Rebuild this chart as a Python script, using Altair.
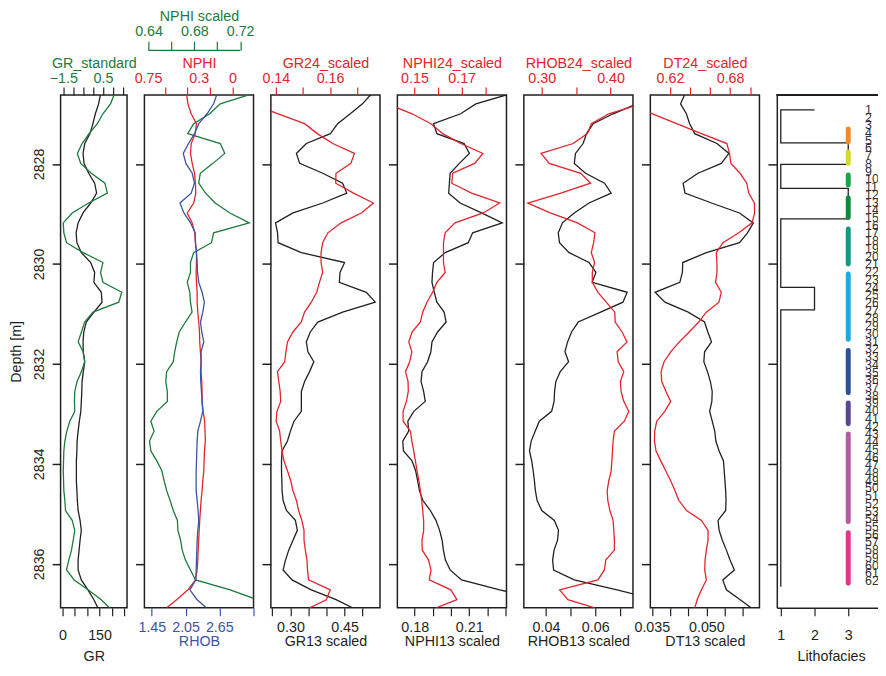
import altair as alt
import pandas as pd

# ---------------- data ----------------
DEPTH = [round(2826.60 + 0.1984 * i, 3) for i in range(52)] + [2836.88]

GR = [154, 146, 133, 123, 111, 90, 83, 87, 106, 130, 138, 114, 83, 63, 55, 58, 76, 114, 130, 127, 157, 160, 127, 96, 86, 83,
      84, 90, 84, 79, 78, 76, 74, 68, 63, 59, 58, 56, 56, 56, 58, 60, 63, 71, 76, 71, 67, 63, 63, 76, 103, 127, 143]
GR_STD = [1.08, 0.88, 0.50, 0.22, -0.20, -0.55, -0.79, -0.62, -0.09, 0.60, 0.72, -0.22, -1.05, -1.50, -1.47, -1.335, -0.50, 0.50, 0.38, 0.50, 1.45, 1.30, 0.00, -0.42, -0.585, -0.75,
          -0.50, -0.42, -0.585, -0.80, -0.92, -0.935, -0.92, -1.17, -1.32, -1.42, -1.47, -1.485, -1.50, -1.485, -1.47, -1.42, -1.385, -1.05, -0.92, -1.00, -1.085, -1.22, -1.335, -0.95, -0.25, 0.415, 0.83]
NPHI = [0.408, 0.396, 0.367, 0.320, 0.331, 0.367, 0.373, 0.358, 0.337, 0.329, 0.326, 0.344, 0.402, 0.358, 0.335, 0.329, 0.320, 0.320, 0.323, 0.320, 0.314, 0.314, 0.308, 0.300, 0.293, 0.291,
        0.285, 0.279, 0.279, 0.273, 0.270, 0.270, 0.261, 0.247, 0.244, 0.241, 0.249, 0.252, 0.255, 0.264, 0.270, 0.279, 0.285, 0.291, 0.296, 0.300, 0.305, 0.308, 0.314, 0.329, 0.396, 0.496, 0.584]
NPHI_SC = [0.730, 0.7026, 0.6934, 0.6794, 0.6742, 0.7026, 0.7066, 0.6962, 0.6852, 0.6838, 0.6898, 0.6982, 0.711, 0.728, 0.6968, 0.695, 0.6794, 0.6766, 0.6766, 0.6738, 0.676, 0.6766, 0.678, 0.6722, 0.6668, 0.6646,
           0.6628, 0.6616, 0.6558, 0.655, 0.6564, 0.6564, 0.6472, 0.642, 0.6448, 0.6408, 0.642, 0.6472, 0.6516, 0.6536, 0.6558, 0.6588, 0.6616, 0.6652, 0.6656, 0.668, 0.6694, 0.6722, 0.6766, 0.681, 0.7113, 0.735, 0.74]
RHOB = [2.609, 2.549, 2.432, 2.285, 2.209, 2.103, 2.009, 2.056, 2.168, 2.209, 2.150, 1.950, 2.021, 2.138, 2.221, 2.226, 2.244, 2.256, 2.262, 2.285, 2.344, 2.385, 2.356, 2.315, 2.338, 2.374,
        2.326, 2.326, 2.315, 2.320, 2.332, 2.344, 2.356, 2.315, 2.268, 2.256, 2.250, 2.244, 2.238, 2.238, 2.238, 2.256, 2.273, 2.285, 2.268, 2.256, 2.250, 2.244, 2.238, 2.232, 2.126, 2.256, 2.42]
GR24 = [0.126, 0.131, 0.1408, 0.1506, 0.1553, 0.1610, 0.1690, 0.1677, 0.1622, 0.1621, 0.1687, 0.1760, 0.1716, 0.1641, 0.1592, 0.1573, 0.1567, 0.1567, 0.1573, 0.1561, 0.1551, 0.1531, 0.1506, 0.1494, 0.1463, 0.1443,
        0.1437, 0.1433, 0.1406, 0.1411, 0.1416, 0.1418, 0.1404, 0.1401, 0.1414, 0.1418, 0.1423, 0.1430, 0.1443, 0.1455, 0.1463, 0.1476, 0.1484, 0.1496, 0.1504, 0.1504, 0.1509, 0.1515, 0.1517, 0.1521, 0.1601, 0.1586, 0.1525]
GR13 = [0.524, 0.4995, 0.4657, 0.4308, 0.4107, 0.344, 0.3165, 0.3256, 0.3896, 0.4445, 0.456, 0.3896, 0.3071, 0.2588, 0.2643, 0.266, 0.3302, 0.450, 0.4374, 0.4354, 0.510, 0.535, 0.4445, 0.3758, 0.355, 0.344,
        0.3484, 0.3648, 0.353, 0.3393, 0.3302, 0.3302, 0.3302, 0.3099, 0.300, 0.2918, 0.2769, 0.2753, 0.2753, 0.2762, 0.2769, 0.2797, 0.289, 0.3137, 0.3192, 0.3071, 0.2953, 0.2863, 0.2797, 0.3044, 0.3577, 0.4264, 0.472]
NPHI24 = [0.128, 0.1385, 0.149, 0.157, 0.162, 0.1696, 0.179, 0.1755, 0.1662, 0.1658, 0.1742, 0.1861, 0.1791, 0.1672, 0.163, 0.1623, 0.1623, 0.1623, 0.163, 0.1595, 0.1577, 0.1553, 0.1535, 0.1525, 0.149, 0.1476,
          0.1489, 0.148, 0.1462, 0.1473, 0.1474, 0.1466, 0.1452, 0.1452, 0.1483, 0.1489, 0.1497, 0.1504, 0.1511, 0.1519, 0.1525, 0.1531, 0.1535, 0.1539, 0.1539, 0.1532, 0.1533, 0.156, 0.157, 0.1563, 0.1654, 0.168, 0.1592]
NPHI13 = [0.2323, 0.2137, 0.2053, 0.1904, 0.1922, 0.2072, 0.2101, 0.2046, 0.1995, 0.1991, 0.1987, 0.205, 0.2168, 0.2282, 0.2119, 0.2095, 0.1968, 0.1904, 0.1898, 0.1895, 0.1908, 0.1922, 0.1962, 0.1973, 0.1926, 0.1895,
          0.1889, 0.1871, 0.184, 0.1835, 0.1849, 0.1858, 0.1795, 0.1762, 0.1767, 0.1734, 0.1738, 0.1785, 0.1805, 0.1816, 0.1826, 0.1845, 0.1886, 0.1917, 0.1937, 0.1951, 0.1958, 0.1969, 0.1995, 0.2058, 0.2268, 0.25, 0.25]
RHOB24 = [0.47, 0.445, 0.3975, 0.372, 0.3663, 0.3457, 0.299, 0.311, 0.3567, 0.371, 0.3278, 0.2798, 0.3125, 0.3519, 0.3773, 0.3754, 0.372, 0.3768, 0.3735, 0.3735, 0.3817, 0.3937, 0.4062, 0.4067, 0.4167, 0.4239,
          0.4095, 0.4111, 0.4192, 0.4143, 0.4153, 0.4192, 0.4264, 0.42, 0.4056, 0.4037, 0.4028, 0.4019, 0.4009, 0.3975, 0.3951, 0.396, 0.399, 0.4037, 0.4047, 0.4056, 0.4056, 0.393, 0.391, 0.3817, 0.326, 0.338, 0.3768]
RHOB13 = [0.087, 0.077, 0.0673, 0.0592, 0.0565, 0.0551, 0.052, 0.0515, 0.0561, 0.0638, 0.0665, 0.0575, 0.0515, 0.0467, 0.045, 0.0455, 0.0494, 0.0575, 0.0603, 0.0588, 0.073, 0.0713, 0.0622, 0.0531, 0.0504, 0.0488,
          0.0477, 0.0492, 0.0458, 0.044, 0.0435, 0.0433, 0.0423, 0.0373, 0.0356, 0.034, 0.0333, 0.0342, 0.0348, 0.0353, 0.0357, 0.0364, 0.0383, 0.0434, 0.0451, 0.0447, 0.0433, 0.0427, 0.0431, 0.0515, 0.0689, 0.085, 0.09]
DT24 = [0.555, 0.5788, 0.6026, 0.6266, 0.6514, 0.6768, 0.6794, 0.6808, 0.69, 0.6966, 0.6986, 0.7042, 0.7045, 0.7019, 0.6887, 0.6729, 0.6662, 0.6669, 0.6669, 0.6655, 0.6712, 0.6689, 0.6563, 0.6487, 0.6392, 0.6293,
        0.6207, 0.6141, 0.6111, 0.6118, 0.616, 0.6207, 0.6148, 0.6068, 0.6048, 0.6045, 0.6061, 0.6108, 0.6157, 0.6207, 0.625, 0.6289, 0.6365, 0.6514, 0.658, 0.658, 0.6563, 0.655, 0.6547, 0.6563, 0.6514, 0.6471, 0.6448]
DT13 = [0.0441, 0.0429, 0.0445, 0.0454, 0.0468, 0.0529, 0.0562, 0.0541, 0.0477, 0.0436, 0.0441, 0.0514, 0.0591, 0.0629, 0.0613, 0.0591, 0.05, 0.0435, 0.0434, 0.0427, 0.0359, 0.0386, 0.045, 0.0495, 0.0504, 0.0514,
        0.0495, 0.0493, 0.0503, 0.0511, 0.0516, 0.0515, 0.0509, 0.0516, 0.0523, 0.0526, 0.0535, 0.0547, 0.0549, 0.0551, 0.0553, 0.0554, 0.0553, 0.0532, 0.0535, 0.0544, 0.0555, 0.0565, 0.0577, 0.0545, 0.0555, 0.0593, 0.0623]

# lithofacies step curve
FAC_DEPTH = [2826.92, 2827.58, 2828.01, 2828.49, 2829.10, 2830.47, 2830.92, 2836.46]
FAC_VALUE = [2, 1, 3, 1, 3, 1, 2, 1]

# coloured facies bars at lithofacies 3
BAR_NAME = ["f1", "f2", "f3", "f4", "f5", "f6", "f7", "f8", "f9", "f10"]
BAR_TOP = [2827.30, 2827.76, 2828.22, 2828.68, 2829.30, 2830.20, 2831.73, 2832.78, 2833.40, 2835.38]
BAR_BOT = [2827.56, 2827.99, 2828.42, 2829.07, 2830.00, 2831.51, 2832.58, 2833.20, 2835.16, 2836.39]
BAR_X = [3] * 10
BAR_COLOR = ["#ef8a25", "#d5da2a", "#17a54a", "#0d8a40", "#0f9b80", "#1cace2", "#2f4f9c", "#5a4698", "#b9589c", "#e2358a"]

# sample numbers 1..62
SAMPLE_NO = [str(k) for k in range(1, 63)]
SAMPLE_DEPTH = [round(2826.919 + 0.15456 * k, 3) for k in range(62)]
SAMPLE_X = [3.5] * 62

# ---------------- styling ----------------
FONT = "Liberation Sans"
FS = 14.4
BLACK = "#231f20"
RED = "#e4232b"
GREEN = "#1c7a3c"
BLUE = "#3a54a4"
H = 517
YTICKS = [2828, 2830, 2832, 2834, 2836]
YSC = alt.Scale(domain=[2826.62, 2836.88], reverse=True, nice=False, zero=False)

df = pd.DataFrame({"depth": DEPTH, "GR": GR, "GRS": GR_STD, "NPHI": NPHI, "NSC": NPHI_SC, "RHOB": RHOB,
                   "GR24": GR24, "GR13": GR13, "N24": NPHI24, "N13": NPHI13, "R24": RHOB24, "R13": RHOB13,
                   "D24": DT24, "D13": DT13})


def y_enc(main=False, domain=False):
    if main:
        ax = alt.Axis(orient="left", values=YTICKS, format="d", labelAngle=270, labelAlign="center",
                      labelBaseline="middle", labelPadding=13, tickSize=8.5, tickColor=BLACK, tickWidth=1.5,
                      labelColor=BLACK, domain=False, title="Depth [m]", titleAngle=270, titleX=-44,
                      titleY=H / 2, titleBaseline="middle", titleAlign="center", titleColor=BLACK)
    else:
        ax = alt.Axis(orient="left", values=YTICKS, labels=False, tickSize=9, tickColor=BLACK, tickWidth=1.5,
                      domain=domain, domainColor=BLACK, domainWidth=1.5, title=None)
    return alt.Y("depth:Q", scale=YSC, axis=ax)


def show_expr(show):
    cond = " || ".join(f"datum.value == {v}" for v in show)
    return f"({cond}) ? datum.label : ''"


def x_axis(orient, values, show, fmt, title, color, pad, title_y, offset=0, tick=8, title_x=None,
           label_expr=None, tick_opacity=None, domain=False, tick_color=None):
    kw = dict(orient=orient, values=values, format=fmt, labelExpr=label_expr or show_expr(show),
              labelColor=color, tickColor=tick_color or color, titleColor=color, tickSize=tick, tickWidth=1.2,
              labelPadding=pad, labelBaseline="middle", labelOverlap=False, labelFlush=False,
              domain=domain, title=title, titleY=title_y, titleBaseline="middle", offset=offset)
    if domain:
        kw.update(domainColor=BLACK, domainWidth=1.5)
    if title_x is not None:
        kw["titleX"] = title_x
    if tick_opacity is not None:
        kw["tickOpacity"] = tick_opacity
    return alt.Axis(**kw)


TOP_PAD, TOP_TY = 8.65, -31.65
BOT_PAD, BOT_TY = 11.55, 33.8
BOT_PAD2, BOT_TY2 = 19.5, 49.0


def curve(field, color, dom, axis, main=False):
    return alt.Chart(df).mark_line(color=color, strokeWidth=1.3, clip=True).encode(
        x=alt.X(f"{field}:Q", scale=alt.Scale(domain=dom, nice=False, zero=False), axis=axis),
        y=y_enc(main), order=alt.Order("depth:Q"))


# panel 1
p1 = alt.layer(
    curve("GR", BLACK, [-8.04, 261.3],
          x_axis("bottom", [0, 50, 100, 150, 200, 250], [0, 150], "d", "GR", BLACK, BOT_PAD2, BOT_TY2), main=True),
    curve("GRS", GREEN, [-1.635, 1.715],
          x_axis("top", [-1.5, -1.0, -0.5, 0.0, 0.5, 1.0, 1.5], [-1.5, 0.5], ".1f", "GR_standard", GREEN, TOP_PAD, TOP_TY,
                 tick_color=BLACK),
          main=True),
).resolve_scale(x="independent").properties(width=67, height=H)

# panel 2
NSC_DOM = [0.63636, 0.73168]
nsc_axis_line = alt.Chart(pd.DataFrame({"a": [0.64], "b": [0.72]})).mark_rule(color=GREEN, strokeWidth=1.2).encode(
    x=alt.X("a:Q", scale=alt.Scale(domain=NSC_DOM, nice=False, zero=False), axis=None),
    x2="b:Q", y=alt.value(-45))
p2 = alt.layer(
    curve("NSC", GREEN, NSC_DOM,
          x_axis("top", [0.64, 0.66, 0.68, 0.70, 0.72], [0.64, 0.68, 0.72], ".2f", "NPHI scaled", GREEN, 9.45, -34.4,
                 offset=45, tick=9)),
    curve("NPHI", RED, [0.7824, -0.1868],
          x_axis("top", [0, 0.2, 0.3, 0.4, 0.6, 0.75], [], ".2f", "NPHI", RED, TOP_PAD, TOP_TY,
                 label_expr="datum.value == 0.75 ? '0.75' : datum.value == 0.3 ? '0.3' : datum.value == 0 ? '0' : ''",
                 tick_opacity={"condition": {"test": "datum.value == 0.3 || datum.value == 0.75", "value": 0}, "value": 1})),
    curve("RHOB", BLUE, [1.3177, 3.2587],
          x_axis("bottom", [1.45, 2.05, 2.65, 3.25], [1.45, 2.05, 2.65], ".2f", "RHOB", BLUE, BOT_PAD, BOT_TY)),
    nsc_axis_line,
).resolve_scale(x="independent").properties(width=110, height=H)


def pair_panel(f24, dom24, vals24, show24, t24, f13, dom13, vals13, show13, t13, fmt13=".2f"):
    return alt.layer(
        curve(f13, BLACK, dom13, x_axis("bottom", vals13, show13, fmt13, t13, BLACK, BOT_PAD, BOT_TY)),
        curve(f24, RED, dom24, x_axis("top", vals24, show24, ".2f", t24, RED, TOP_PAD, TOP_TY)),
    ).resolve_scale(x="independent").properties(width=110, height=H)


p3 = pair_panel("GR24", [0.13817, 0.17846], [0.14, 0.15, 0.16, 0.17], [0.14, 0.16], "GR24_scaled",
                "GR13", [0.24588, 0.54808], [0.25, 0.30, 0.35, 0.40, 0.45, 0.50, 0.55], [0.30, 0.45], "GR13 scaled")
p4 = pair_panel("N24", [0.14277, 0.18899], [0.15, 0.16, 0.17, 0.18], [0.15, 0.17], "NPHI24_scaled",
                "N13", [0.17044, 0.23055], [0.18, 0.19, 0.20, 0.21, 0.22, 0.23], [0.18, 0.21], "NPHI13 scaled")
p5 = pair_panel("R24", [0.27406, 0.43256], [0.30, 0.35, 0.40], [0.30, 0.40], "RHOB24_scaled",
                "R13", [0.031008, 0.075363], [0.04, 0.05, 0.06, 0.07], [0.04, 0.06], "RHOB13 scaled")
p6 = pair_panel("D24", [0.6004, 0.70931], [0.62, 0.64, 0.66, 0.68, 0.70], [0.62, 0.68], "DT24_scaled",
                "D13", [0.03459, 0.06459], [0.035, 0.040, 0.045, 0.050, 0.055, 0.060, 0.065], [0.035, 0.050],
                "DT13 scaled", fmt13=".3f")

# panel 7 lithofacies
W7 = 102
FSC = alt.Scale(domain=[0.8824, 3.8824], nice=False, zero=False)
fac_df = pd.DataFrame({"depth": FAC_DEPTH, "facies": FAC_VALUE})
bar_df = pd.DataFrame({"name": BAR_NAME, "top": BAR_TOP, "bot": BAR_BOT, "x": BAR_X})
lab_df = pd.DataFrame({"depth": SAMPLE_DEPTH, "x": SAMPLE_X, "t": SAMPLE_NO})

fac_line = alt.Chart(fac_df).mark_line(color=BLACK, strokeWidth=1.3, interpolate="step-after").encode(
    x=alt.X("facies:Q", scale=FSC,
            axis=x_axis("bottom", [1, 2, 3], [1, 2, 3], "d", "Lithofacies", BLACK, BOT_PAD2, BOT_TY2,
                        title_x=54.7, domain=True)),
    y=y_enc(domain=True), order=alt.Order("depth:Q"))
fac_bars = alt.Chart(bar_df).mark_rule(strokeWidth=5, strokeCap="round").encode(
    x=alt.X("x:Q", scale=FSC),
    y=alt.Y("top:Q", scale=YSC), y2="bot:Q",
    color=alt.Color("name:N", scale=alt.Scale(domain=BAR_NAME, range=BAR_COLOR), legend=None))
fac_labels = alt.Chart(lab_df).mark_text(align="left", baseline="middle", font=FONT, fontSize=12.5,
                                         color="#333333").encode(
    x=alt.X("x:Q", scale=FSC), y=alt.Y("depth:Q", scale=YSC), text="t:N")
top_border = alt.Chart(fac_df).mark_rule(color=BLACK, strokeWidth=1.5).encode(
    x=alt.value(0), x2=alt.value(W7), y=alt.value(0))
p7 = alt.layer(fac_line, fac_bars, fac_labels, top_border).properties(
    width=W7, height=H, view=alt.ViewBackground(stroke="transparent"))

chart = alt.hconcat(p1, p2, p3, p4, p5, p6, p7, spacing=17.5, bounds="flush").properties(
    padding={"left": 0, "top": -4, "right": -2, "bottom": -2.4}, background="white"
).configure_axis(
    labelFont=FONT, titleFont=FONT, labelFontSize=FS, titleFontSize=FS, titleFontWeight="normal", grid=False
).configure_view(stroke=BLACK, strokeWidth=1.5)

chart.save("out.html", embed_options={"renderer": "svg", "actions": False})
